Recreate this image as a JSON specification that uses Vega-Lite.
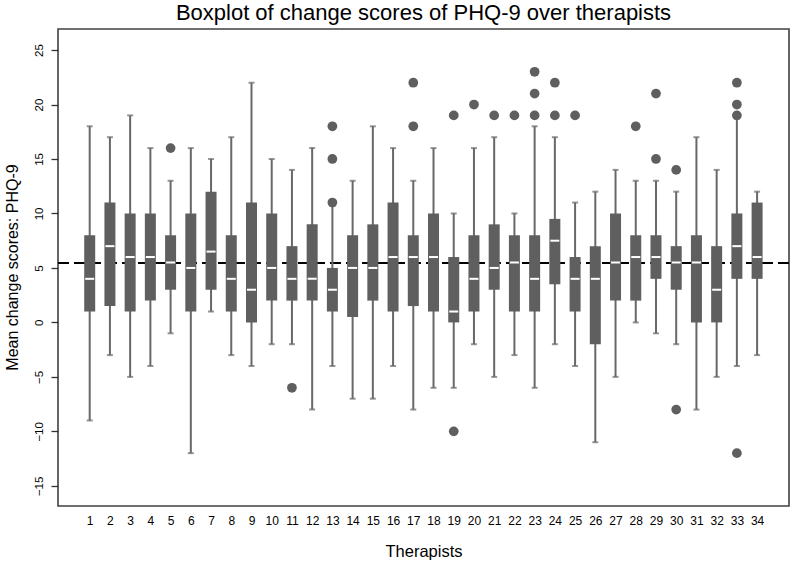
{
  "$schema": "https://vega.github.io/schema/vega-lite/v6.json",
  "autosize": {"type": "none"},
  "padding": {"left": 58, "top": 29, "right": 5, "bottom": 58},
  "width": 731,
  "height": 477,
  "background": "white",
  "title": {"text": "Boxplot of change scores of PHQ-9 over therapists", "fontSize": 22, "fontWeight": "normal", "baseline": "alphabetic", "offset": 8, "dy": 21, "anchor": "middle", "frame": "group", "color": "#000"},
  "config": {
    "font": "Liberation Sans",
    "view": {"stroke": "#404040", "strokeWidth": 1.6},
    "axis": {"grid": false, "domain": false},
    "axisX": {"labelOverlap": false, "labelFontSize": 12, "labelColor": "#000"}
  },
  "datasets": {
    "boxes": [
      {"t": 1, "lo": -9, "q1": 1, "med": 4, "q3": 8, "hi": 18},
      {"t": 2, "lo": -3, "q1": 1.5, "med": 7, "q3": 11, "hi": 17},
      {"t": 3, "lo": -5, "q1": 1, "med": 6, "q3": 10, "hi": 19},
      {"t": 4, "lo": -4, "q1": 2, "med": 6, "q3": 10, "hi": 16},
      {"t": 5, "lo": -1, "q1": 3, "med": 5.5, "q3": 8, "hi": 13},
      {"t": 6, "lo": -12, "q1": 1, "med": 5, "q3": 10, "hi": 16},
      {"t": 7, "lo": 1, "q1": 3, "med": 6.5, "q3": 12, "hi": 15},
      {"t": 8, "lo": -3, "q1": 1, "med": 4, "q3": 8, "hi": 17},
      {"t": 9, "lo": -4, "q1": 0, "med": 3, "q3": 11, "hi": 22},
      {"t": 10, "lo": -2, "q1": 2, "med": 5, "q3": 10, "hi": 15},
      {"t": 11, "lo": -2, "q1": 2, "med": 4, "q3": 7, "hi": 14},
      {"t": 12, "lo": -8, "q1": 2, "med": 4, "q3": 9, "hi": 16},
      {"t": 13, "lo": -4, "q1": 1, "med": 3, "q3": 5, "hi": 10.7},
      {"t": 14, "lo": -7, "q1": 0.5, "med": 5, "q3": 8, "hi": 13},
      {"t": 15, "lo": -7, "q1": 2, "med": 5, "q3": 9, "hi": 18},
      {"t": 16, "lo": -4, "q1": 1, "med": 6, "q3": 11, "hi": 16},
      {"t": 17, "lo": -8, "q1": 1.5, "med": 6, "q3": 8, "hi": 13},
      {"t": 18, "lo": -6, "q1": 1, "med": 6, "q3": 10, "hi": 16},
      {"t": 19, "lo": -6, "q1": 0, "med": 1, "q3": 6, "hi": 10},
      {"t": 20, "lo": -2, "q1": 1, "med": 4, "q3": 8, "hi": 16},
      {"t": 21, "lo": -5, "q1": 3, "med": 5, "q3": 9, "hi": 17},
      {"t": 22, "lo": -3, "q1": 1, "med": 5.5, "q3": 8, "hi": 10},
      {"t": 23, "lo": -6, "q1": 1, "med": 4, "q3": 8, "hi": 18},
      {"t": 24, "lo": -2, "q1": 3.5, "med": 7.5, "q3": 9.5, "hi": 17},
      {"t": 25, "lo": -4, "q1": 1, "med": 4, "q3": 6, "hi": 11},
      {"t": 26, "lo": -11, "q1": -2, "med": 4, "q3": 7, "hi": 12},
      {"t": 27, "lo": -5, "q1": 2, "med": 5.5, "q3": 10, "hi": 14},
      {"t": 28, "lo": 0, "q1": 2, "med": 6, "q3": 8, "hi": 13},
      {"t": 29, "lo": -1, "q1": 4, "med": 6, "q3": 8, "hi": 13},
      {"t": 30, "lo": -2, "q1": 3, "med": 5.5, "q3": 7, "hi": 12},
      {"t": 31, "lo": -8, "q1": 0, "med": 5.5, "q3": 8, "hi": 17},
      {"t": 32, "lo": -5, "q1": 0, "med": 3, "q3": 7, "hi": 14},
      {"t": 33, "lo": -4, "q1": 4, "med": 7, "q3": 10, "hi": 18.7},
      {"t": 34, "lo": -3, "q1": 4, "med": 6, "q3": 11, "hi": 12}
    ],
    "outliers": [
      {"t": 5, "v": 16},
      {"t": 11, "v": -6},
      {"t": 13, "v": 18}, {"t": 13, "v": 15}, {"t": 13, "v": 11},
      {"t": 17, "v": 22}, {"t": 17, "v": 18},
      {"t": 19, "v": 19}, {"t": 19, "v": -10},
      {"t": 20, "v": 20},
      {"t": 21, "v": 19},
      {"t": 22, "v": 19},
      {"t": 23, "v": 23}, {"t": 23, "v": 21}, {"t": 23, "v": 19},
      {"t": 24, "v": 22}, {"t": 24, "v": 19},
      {"t": 25, "v": 19},
      {"t": 28, "v": 18},
      {"t": 29, "v": 21}, {"t": 29, "v": 15},
      {"t": 30, "v": 14}, {"t": 30, "v": -8},
      {"t": 33, "v": 22}, {"t": 33, "v": 20}, {"t": 33, "v": 19}, {"t": 33, "v": -12}
    ],
    "ref": [{"mean": 5.45}]
  },
  "layer": [
    {
      "data": {"name": "ref"},
      "mark": {"type": "rule", "color": "#000", "strokeWidth": 2, "strokeDash": [11, 5]},
      "encoding": {
        "y": {"field": "mean", "type": "quantitative", "scale": {"domain": [-16.85, 26.93], "nice": false, "zero": false}}
      }
    },
    {
      "data": {"name": "boxes"},
      "mark": {"type": "rule", "color": "#686868", "strokeWidth": 2},
      "encoding": {
        "x": {"field": "t", "type": "quantitative", "scale": {"domain": [-0.32, 35.33], "nice": false, "zero": false},
          "axis": {"values": [1,2,3,4,5,6,7,8,9,10,11,12,13,14,15,16,17,18,19,20,21,22,23,24,25,26,27,28,29,30,31,32,33,34], "tickCount": 34, "format": "d", "ticks": false, "tickSize": 0, "labelPadding": 9, "labelFontSize": 12, "labelColor": "#000", "labelFlush": false, "labelOverlap": false, "labelSeparation": 0, "title": "Therapists", "titleFontSize": 16.5, "titleFontWeight": "normal", "titleColor": "#000", "titleY": 50, "titleBaseline": "alphabetic"}},
        "y": {"field": "lo", "type": "quantitative", "scale": {"domain": [-16.85, 26.93], "nice": false, "zero": false},
          "axis": {"values": [-15, -10, -5, 0, 5, 10, 15, 20, 25], "ticks": true, "tickSize": 7, "tickWidth": 1.3, "tickColor": "#333", "labelAngle": 270, "labelAlign": "center", "labelBaseline": "bottom", "labelPadding": 7, "labelFontSize": 11.5, "labelColor": "#000", "title": "Mean change scores: PHQ-9", "titleFontSize": 16, "titleFontWeight": "normal", "titleColor": "#000", "titleX": -46, "titleY": 238, "titleAngle": 270, "titleAlign": "center", "titleBaseline": "middle"}},
        "y2": {"field": "hi"}
      }
    },
    {
      "data": {"name": "boxes"},
      "mark": {"type": "tick", "orient": "horizontal", "size": 6, "thickness": 2, "color": "#686868"},
      "encoding": {
        "x": {"field": "t", "type": "quantitative"},
        "y": {"field": "lo", "type": "quantitative"}
      }
    },
    {
      "data": {"name": "boxes"},
      "mark": {"type": "tick", "orient": "horizontal", "size": 6, "thickness": 2, "color": "#686868"},
      "encoding": {
        "x": {"field": "t", "type": "quantitative"},
        "y": {"field": "hi", "type": "quantitative"}
      }
    },
    {
      "data": {"name": "boxes"},
      "mark": {"type": "bar", "orient": "vertical", "size": 11, "color": "#5f5f5f"},
      "encoding": {
        "x": {"field": "t", "type": "quantitative"},
        "y": {"field": "q1", "type": "quantitative"},
        "y2": {"field": "q3"}
      }
    },
    {
      "data": {"name": "boxes"},
      "mark": {"type": "tick", "orient": "horizontal", "size": 9, "thickness": 2, "color": "#ffffff", "opacity": 1},
      "encoding": {
        "x": {"field": "t", "type": "quantitative"},
        "y": {"field": "med", "type": "quantitative"}
      }
    },
    {
      "data": {"name": "outliers"},
      "mark": {"type": "circle", "size": 95, "color": "#5f5f5f", "opacity": 1},
      "encoding": {
        "x": {"field": "t", "type": "quantitative"},
        "y": {"field": "v", "type": "quantitative"}
      }
    }
  ]
}
